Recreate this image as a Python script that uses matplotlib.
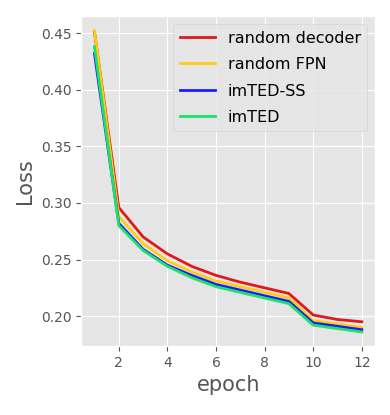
import matplotlib
matplotlib.use('Agg')
import matplotlib.pyplot as plt

plt.style.use('ggplot')

epochs = [1, 2, 3, 4, 5, 6, 7, 8, 9, 10, 11, 12]
random_decoder = [0.451, 0.296, 0.270, 0.255, 0.244, 0.236, 0.230, 0.225, 0.220, 0.201, 0.197, 0.195]
random_fpn = [0.452, 0.288, 0.264, 0.249, 0.239, 0.231, 0.226, 0.221, 0.216, 0.196, 0.193, 0.190]
imted_ss = [0.432, 0.282, 0.259, 0.245, 0.236, 0.228, 0.223, 0.218, 0.213, 0.194, 0.191, 0.188]
imted = [0.438, 0.280, 0.258, 0.244, 0.234, 0.226, 0.221, 0.216, 0.211, 0.192, 0.189, 0.186]

fig, ax = plt.subplots(figsize=(3.9, 4.15), dpi=100)
fig.subplots_adjust(left=0.208, right=0.962, top=0.961, bottom=0.166)

ax.plot(epochs, random_decoder, color='#e0191b', lw=2, label='random decoder')
ax.plot(epochs, random_fpn, color='#ffcc11', lw=2, label='random FPN')
ax.plot(epochs, imted_ss, color='#1a1aff', lw=2, label='imTED-SS')
ax.plot(epochs, imted, color='#1ee06a', lw=2, label='imTED')

ax.set_xticks([2, 4, 6, 8, 10, 12])
ax.set_yticks([0.20, 0.25, 0.30, 0.35, 0.40, 0.45])
ax.set_ylim(0.1735, 0.465)
ax.tick_params(labelsize=10)
ax.set_xlabel('epoch', fontsize=15)
ax.set_ylabel('Loss', fontsize=15)
leg = ax.legend(loc='upper right', fontsize=11.5, handlelength=2.2, labelspacing=0.72)
leg.get_frame().set_edgecolor('#d0d0d0')

fig.savefig('out.png')
